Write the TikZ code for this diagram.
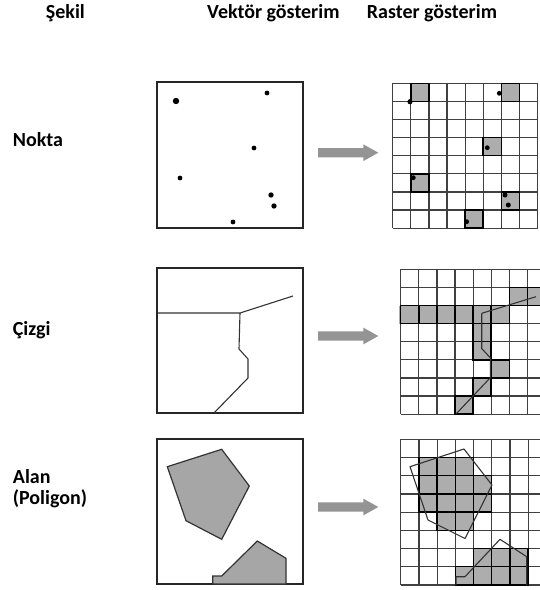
\documentclass[tikz,border=0pt]{standalone}
\usepackage{fontspec}
\setmainfont{Carlito}
\begin{document}
\begin{tikzpicture}[x=1pt,y=-1pt,
  lbl/.style={font=\bfseries\fontsize{20}{22}\selectfont, anchor=base west, inner sep=0pt},
  vbox/.style={draw=black!85, line width=1.4pt},
  gridln/.style={draw=black!75, line width=1.2pt},
  shcell/.style={fill=black!32, draw=black, line width=1.5pt},
  shfill/.style={fill=black!32},
  polyfill/.style={fill=black!35, draw=black!80, line width=1.2pt},
  vline/.style={draw=black!80, line width=1.1pt, line join=round},
  ptdot/.style={fill=black},
  bigarrow/.style={fill=black!42}]
\useasboundingbox (0,0) rectangle (540,590);
\fill[white] (0,0) rectangle (540,590);

% headers
\node[lbl] (hsekil) at (45.7,18.5) {Şekil};
\node[lbl] (hvek) at (207,18.5) {Vektör gösterim};
\node[lbl] (hras) at (366.7,18.5) {Raster gösterim};
% row labels
\node[lbl] (lnokta) at (12.7,146) {Nokta};
\node[lbl] (lcizgi) at (12.7,335) {Çizgi};
\node[lbl] (lalan) at (12.7,483.3) {Alan};
\node[lbl] (lpol) at (12.7,504.5) {(Poligon)};

% arrows
\foreach \ay in {152.7,336,507}{
  \fill[bigarrow] (318,\ay-4.7) -- (363.3,\ay-4.7) -- (363.3,\ay-8.4) -- (378.3,\ay)
    -- (363.3,\ay+8.4) -- (363.3,\ay+4.7) -- (318,\ay+4.7) -- cycle;
}

%% ---------- Row 1: points ----------
\draw[vbox] (157,82) rectangle (303,228);
\fill[ptdot] (176,101) circle (3.2);
\foreach \px/\py in {267/93, 254/148, 180/178, 233/222}{\fill[ptdot] (\px,\py) circle (2.4);}
\foreach \px/\py in {271/195, 274/206}{\fill[ptdot] (\px,\py) circle (2.7);}

% raster 1
\foreach \c/\r in {1/0,6/0,5/3,1/5,6/6,4/7}{
  \fill[shfill] (392.7+\c*18.1,83.3+\r*18.1) rectangle ++(18.1,18.1);}
\foreach \k in {0,...,8}{
  \draw[gridln] (392.7+\k*18.1,83.3) -- (392.7+\k*18.1,228.1);
  \draw[gridln] (392.7,83.3+\k*18.1) -- (537.5,83.3+\k*18.1);}
\foreach \c/\r in {1/0,6/0,5/3,1/5,6/6,4/7}{
  \draw[shcell,fill=none] (392.7+\c*18.1,83.3+\r*18.1) rectangle ++(18.1,18.1);}
\fill[ptdot] (410,101.7) circle (2.6);
\foreach \px/\py in {499.3/93.3, 487.3/147.7, 413.3/177.7, 466.7/221.7}{\fill[ptdot] (\px,\py) circle (2.4);}
\foreach \px/\py in {505/195, 508.3/205}{\fill[ptdot] (\px,\py) circle (2.5);}

%% ---------- Row 2: lines ----------
\draw[vbox] (157,268) rectangle (303,413);
\draw[vline] (157,313) -- (240,313) -- (293,296);
\draw[vline] (240,313) -- (239,349) -- (248,359) -- (248,378) -- (214,413);

\begin{scope}
\clip (390,260) rectangle (540,420);
\foreach \c/\r in {6/1,7/1,0/2,1/2,2/2,3/2,4/2,5/2,4/3,4/4,5/5,4/6,3/7}{
  \fill[shfill] (400.7+\c*18.1,269.3+\r*18.1) rectangle ++(18.1,18.1);}
\fill[shfill] (399.3,305.5) rectangle (401,323.6);
\foreach \k in {0,...,8}{
  \draw[gridln] (400.7+\k*18.1,269.3) -- (400.7+\k*18.1,414.1);
  \draw[gridln] (400.7,269.3+\k*18.1) -- (546,269.3+\k*18.1);}
\foreach \c/\r in {6/1,7/1,0/2,1/2,2/2,3/2,4/2,5/2,4/3,4/4,5/5,4/6,3/7}{
  \draw[shcell,fill=none] (400.7+\c*18.1,269.3+\r*18.1) rectangle ++(18.1,18.1);}
\draw[vline] (481.7,313.3) -- (536,296.7);
\draw[vline] (481.7,313.3) -- (481.7,348.5) -- (490.5,358) -- (490.5,377.5) -- (456,414);
\end{scope}

%% ---------- Row 3: polygons ----------
\draw[vbox] (157,439) rectangle (303,584);
\draw[polyfill] (167.3,466.7) -- (221.7,449.3) -- (249.3,486) -- (221.7,539.3) -- (186,520.7) -- cycle;
\draw[polyfill] (212.7,584) -- (212.7,576) -- (221.7,576) -- (257.3,541) -- (286,558.3) -- (286,584) -- cycle;

\begin{scope}
\clip (390,430) rectangle (540,590);
\foreach \c/\r in {1/1,2/1,3/1,1/2,2/2,3/2,4/2,1/3,2/3,3/3,4/3,2/4,3/4,4/6,5/6,6/6,3/7,4/7,5/7,6/7}{
  \fill[shfill] (400.7+\c*18.2,439.3+\r*18.2) rectangle ++(18.2,18.2);}
\foreach \k in {0,...,8}{
  \draw[gridln] (400.7+\k*18.2,439.3) -- (400.7+\k*18.2,584.9);
  \draw[gridln] (400.7,439.3+\k*18.2) -- (546,439.3+\k*18.2);}
\foreach \c/\r in {1/1,2/1,3/1,1/2,2/2,3/2,4/2,1/3,2/3,3/3,4/3,2/4,3/4,4/6,5/6,6/6,3/7,4/7,5/7,6/7}{
  \draw[shcell,fill=none] (400.7+\c*18.2,439.3+\r*18.2) rectangle ++(18.2,18.2);}
\draw[vline] (410,466.7) -- (464,449) -- (492,485) -- (465,538.5) -- (428,520) -- cycle;
\draw[vline] (456,585) -- (456,576.7) -- (465,576.7) -- (500,539.3) -- (526.7,556.7) -- (526.7,585);
\end{scope}
\end{tikzpicture}
\end{document}
